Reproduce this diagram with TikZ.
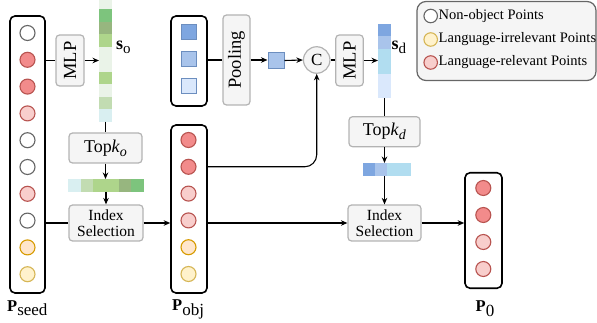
\documentclass[tikz,border=0pt]{standalone}
\usepackage{fontspec}
\setmainfont{Liberation Serif}
\usetikzlibrary{arrows.meta}
\definecolor{redfill}{HTML}{F28B8B}
\definecolor{redline}{HTML}{B85450}
\definecolor{pinkfill}{HTML}{F8CECC}
\definecolor{grayline}{HTML}{666666}
\definecolor{orfill}{HTML}{FFE6CC}
\definecolor{orline}{HTML}{D79B00}
\definecolor{yefill}{HTML}{FFF2CC}
\definecolor{yeline}{HTML}{D6B656}
\definecolor{boxgray}{HTML}{B3B3B3}
\definecolor{boxfill}{HTML}{F5F5F5}
\definecolor{bA}{HTML}{7EA6E0}
\definecolor{bB}{HTML}{A9C4EB}
\definecolor{bC}{HTML}{B1DDF0}
\definecolor{bD}{HTML}{DAE8FC}
\definecolor{bline}{HTML}{6C8EBF}
\definecolor{gA}{HTML}{EAF3E8}
\definecolor{gB}{HTML}{7DC47D}
\definecolor{gC}{HTML}{97B67F}
\definecolor{gD}{HTML}{AED58B}
\definecolor{gE}{HTML}{C2DCB2}
\definecolor{gF}{HTML}{D9EFF1}
\begin{document}
\begin{tikzpicture}[x=1pt,y=-1pt,
  colbox/.style={draw=black, line width=1.6pt, rounded corners=5pt, inner sep=0pt, fill=white},
  gbox/.style={draw=boxgray, fill=boxfill, line width=1.2pt, rounded corners=3.5pt, inner sep=0pt, align=center, font=\fontsize{15.5}{16}\selectfont},
  rotbox/.style={gbox, font=\fontsize{18.5}{20}\selectfont},
  ptbase/.style={circle, minimum size=15pt, inner sep=0pt, line width=1.1pt},
  ptred/.style={ptbase, draw=redline, fill=redfill},
  ptpink/.style={ptbase, draw=redline, fill=pinkfill},
  ptgray/.style={ptbase, draw=grayline, fill=white},
  ptorange/.style={ptbase, draw=orline, fill=orfill},
  ptyellow/.style={ptbase, draw=yeline, fill=yefill},
  sqbase/.style={rectangle, minimum size=15pt, inner sep=0pt, line width=1pt, draw=bline},
  arr/.style={-{Stealth[length=6.5pt,width=5.5pt]}, line width=1.1pt},
  ln/.style={line width=1.1pt},
  barnode/.style={inner sep=0pt, outer sep=0pt},
  lbl/.style={inner sep=0pt, anchor=base west},
  leg/.style={inner sep=0pt, anchor=west, font=\fontsize{14.5}{16}\selectfont}
]
\useasboundingbox (0,0) rectangle (597,323);

% ---------- legend ----------
\node[draw=grayline, fill=boxfill, line width=1.2pt, rounded corners=9pt, minimum width=179pt, minimum height=79pt, inner sep=0pt] (legend) at (506.5,41) {};
\node[ptgray, minimum size=13.5pt] (lg1) at (430.7,16) {};
\node[ptyellow, minimum size=13.5pt] (lg2) at (430.7,39.5) {};
\node[ptpink, minimum size=13.5pt] (lg3) at (430.7,62.5) {};
\node[leg] (lt1) at (438.5,16) {Non-object Points};
\node[leg] (lt2) at (438.5,39.5) {Language-irrelevant Points};
\node[leg] (lt3) at (438.5,62.5) {Language-relevant Points};

% ---------- P_seed ----------
\node[colbox, minimum width=35pt, minimum height=277pt] (Pseed) at (27.5,154.5) {};
\foreach \i/\s in {1/ptgray,2/ptred,3/ptred,4/ptpink,5/ptgray,6/ptgray,7/ptpink,8/ptgray,9/ptorange,10/ptyellow}
  \node[\s] (s\i) at (27.5,{33+26.8*(\i-1)}) {};
\node[lbl] (lseed) at (7,311) {\fontsize{16.5}{18}\selectfont\textbf{P}\raisebox{-4.5pt}{\fontsize{17}{18}\selectfont seed}};

% ---------- P_obj ----------
\node[colbox, minimum width=36pt, minimum height=168pt] (Pobj) at (189,209) {};
\foreach \i/\s in {1/ptred,2/ptred,3/ptpink,4/ptpink,5/ptorange,6/ptyellow}
  \node[\s] (o\i) at (188.5,{140+26.8*(\i-1)}) {};
\node[lbl] (lobj) at (172,310.5) {\fontsize{16.5}{18}\selectfont\textbf{P}\raisebox{-4.5pt}{\fontsize{17}{18}\selectfont obj}};

% ---------- P_0 ----------
\node[colbox, minimum width=37pt, minimum height=115.5pt] (Pzero) at (483.5,230.5) {};
\foreach \i/\s in {1/ptred,2/ptred,3/ptpink,4/ptpink}
  \node[\s] (z\i) at (483.3,{188+27*(\i-1)}) {};
\node[lbl] (lzero) at (475.5,311.5) {\fontsize{16.5}{18}\selectfont\textbf{P}\raisebox{-4.5pt}{\fontsize{17}{18}\selectfont 0}};

% ---------- text box with squares ----------
\node[colbox, minimum width=36pt, minimum height=90pt] (txt) at (189,61) {};
\node[sqbase, fill=bA] (q1) at (188.5,32.5) {};
\node[sqbase, fill=bB] (q2) at (188.5,59.5) {};
\node[sqbase, fill=bD] (q3) at (188.5,86.5) {};

% ---------- upper-left branch ----------
\node[rotbox, minimum width=28pt, minimum height=51pt] (mlpa) at (70,60.5) {\rotatebox{90}{MLP}};
\node[barnode, minimum width=13pt, minimum height=121.7pt] (so) at (105.5,60.85) {};
\foreach \a/\b/\c in {0/9.3/gA,9.3/22.3/gB,22.3/34.3/gC,34.3/46.7/gD,46.7/59.3/gA,59.3/71.7/gA,71.7/84.3/gD,84.3/96.7/gA,96.7/109.3/gE,109.3/121.7/gF}
  \fill[\c] (99,\a) rectangle (112,\b);
\node[lbl] (lso) at (116,50) {\fontsize{18}{19}\selectfont\textbf{s}\raisebox{-4pt}{\fontsize{15}{16}\selectfont o}};
\node[gbox, minimum width=73pt, minimum height=30pt, font=\fontsize{18}{19}\selectfont] (topko) at (105.5,148) {Top\textit{k}\raisebox{-4pt}{\fontsize{14}{15}\selectfont\textit{o}}};
\node[barnode, minimum width=76pt, minimum height=13pt] (baro) at (106,185.5) {};
\foreach \a/\b/\c in {68/80.7/gF,80.7/93.3/gE,93.3/106/gD,106/118.7/gD,118.7/131.3/gC,131.3/144/gB}
  \fill[\c] (\a,179) rectangle (\b,192);
\node[gbox, minimum width=74pt, minimum height=36pt] (idxa) at (106,223) {Index\\Selection};

% ---------- upper-right branch ----------
\node[rotbox, minimum width=27pt, minimum height=90pt] (pool) at (236.5,60) {\rotatebox{90}{Pooling}};
\node[sqbase, minimum size=16pt, fill=bB] (sq) at (276,60.5) {};
\node[circle, draw=boxgray, fill=boxfill, line width=1.2pt, minimum size=26.5pt, inner sep=0pt, font=\fontsize{17}{18}\selectfont] (cc) at (316.7,60) {C};
\node[rotbox, minimum width=27.5pt, minimum height=51pt] (mlpb) at (349.5,60.5) {\rotatebox{90}{MLP}};
\node[barnode, minimum width=13pt, minimum height=74.4pt] (sd) at (384.5,61.2) {};
\foreach \a/\b/\c in {24/36.4/bA,36.4/48.8/bB,48.8/61.2/bC,61.2/73.6/bC,73.6/86/bD,86/98.4/bD}
  \fill[\c] (378,\a) rectangle (391,\b);
\node[lbl] (lsd) at (391.5,50) {\fontsize{18}{19}\selectfont\textbf{s}\raisebox{-4pt}{\fontsize{15}{16}\selectfont d}};
\node[gbox, minimum width=71pt, minimum height=30pt, font=\fontsize{18}{19}\selectfont] (topkd) at (384.5,131.7) {Top\textit{k}\raisebox{-4pt}{\fontsize{14}{15}\selectfont\textit{d}}};
\node[barnode, minimum width=48pt, minimum height=13pt] (bard) at (387,169.5) {};
\foreach \a/\b/\c in {363/375/bA,375/387/bB,387/399/bC,399/411/bC}
  \fill[\c] (\a,163) rectangle (\b,176);
\node[gbox, minimum width=73pt, minimum height=36pt] (idxb) at (384.5,223) {Index\\Selection};

% ---------- connectors ----------
\draw[ln] (Pseed.east |- mlpa.west) -- (mlpa.west);
\draw[arr] (mlpa.east) -- (so.west |- mlpa.east);
\draw[ln] (so.south) -- (topko.north);
\draw[arr] (topko.south) -- (topko.south |- baro.north);
\draw[arr] (idxa.north |- baro.south) -- (idxa.north);
\draw[ln] (Pseed.east |- idxa.west) -- (idxa.west);
\draw[arr] (idxa.east) -- (Pobj.west |- idxa.east);

\draw[ln] (txt.east |- pool.west) -- (pool.west);
\draw[arr] (pool.east) -- (sq.west |- pool.east);
\draw[arr] (sq.east) -- (cc.west);
\draw[ln] (cc.east) -- (mlpb.west |- cc.east);
\draw[arr] (mlpb.east) -- (sd.west |- mlpb.east);
\draw[ln] (sd.south) -- (topkd.north);
\draw[arr] (topkd.south) -- (topkd.south |- bard.north);
\draw[arr] (idxb.north |- bard.south) -- (idxb.north);

\draw[arr, rounded corners=12pt] (Pobj.east |- o2) -| (cc.south);
\draw[arr] (Pobj.east |- idxb.west) -- (idxb.west);
\draw[arr] (idxb.east) -- (Pzero.west |- idxb.east);
\end{tikzpicture}
\end{document}
